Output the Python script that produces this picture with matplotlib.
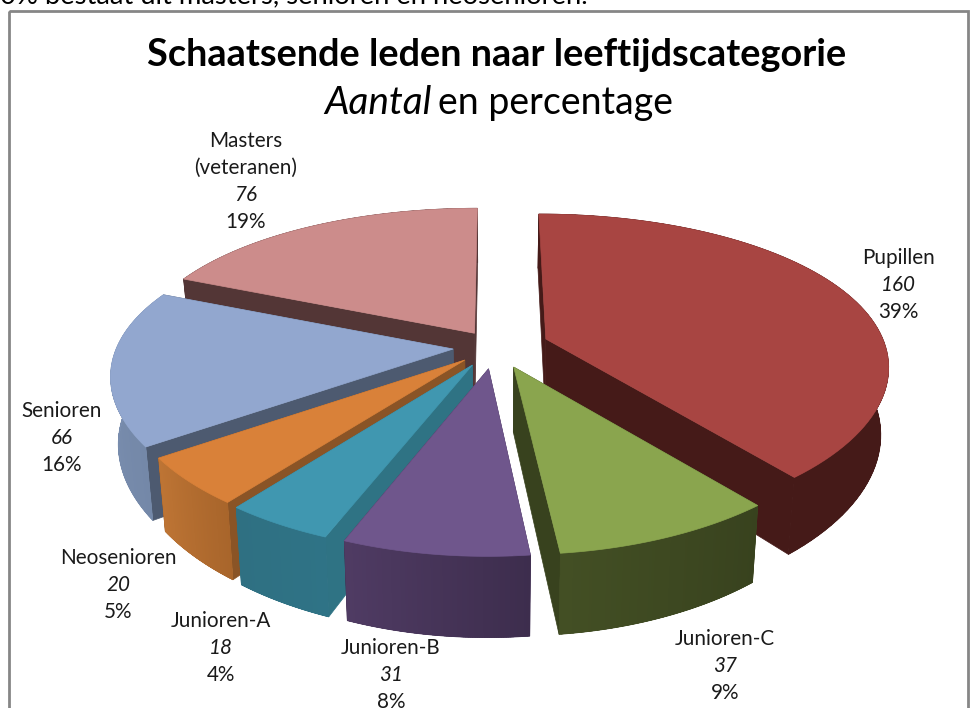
import numpy as np
import matplotlib
matplotlib.use("Agg")
import matplotlib.pyplot as plt
from matplotlib.colors import to_rgb
from matplotlib.patches import Polygon, Rectangle

categories = ["Pupillen", "Junioren-C", "Junioren-B", "Junioren-A", "Neosenioren", "Senioren", "Masters\n(veteranen)"]
values = [160, 37, 31, 18, 20, 66, 76]
percent_labels = ["39%", "9%", "8%", "4%", "5%", "16%", "19%"]

top_colors = ["#A84542", "#8AA54E", "#6F568C", "#4097B0", "#D98139", "#92A7CF", "#CC8C8B"]
side_from = ["#451A18", "#38421E", "#3D2D4D", "#2F7386", "#A8652B", "#7488A8", "#533636"]
side_to = ["#451A18", "#434F24", "#4F3B63", "#2F7082", "#BD7434", "#7F93B5", "#533636"]
cut_colors = ["#451A18", "#38421E", "#3D2D4D", "#2F7384", "#8A5426", "#4D5A70", "#533636"]
explode = [0.16, 0.145, 0.147, 0.138, 0.125, 0.125, 0.11]
# far slices first so the near ones cover them
draw_order = [6, 0, 5, 4, 3, 1, 2]
label_pos = [(898, 258), (725, 639), (391, 648), (221, 621), (118, 558), (62, 411), (246, 141)]

CX, CY = 495, 347
RX, RY = 337, 150
PERSP_X, PERSP_Y = 0.16, 0.2
DEPTH = 65
BOTTOM_SHRINK = 0.98

plt.rcParams["font.family"] = ["Lato", "DejaVu Sans"]


def project(u, v, ox, oy):
    # ox, oy move the slice out from the centre
    sx = 1 / (1 + PERSP_X * v)
    sy = 1 / (1 + PERSP_Y * v)
    return np.column_stack([CX + RX * sx * (u + ox), CY - RY * (oy + v * sy)]), sy


def drop(points, scale):
    out = points.copy()
    out[:, 0] = CX + (out[:, 0] - CX) * BOTTOM_SHRINK
    out[:, 1] += DEPTH * scale
    return out


fig = plt.figure(figsize=(9.71, 7.08), dpi=100)
ax = fig.add_axes([0, 0, 1, 1])
ax.set_xlim(0, 971)
ax.set_ylim(708, 0)
ax.axis("off")

ax.add_patch(Rectangle((9, 11), 959, 720, fill=False, edgecolor="#868686", linewidth=2))

edges = np.radians(np.cumsum([0] + values) / sum(values) * 360)

for i in draw_order:
    start, end = edges[i], edges[i + 1]
    mid = (start + end) / 2
    ox, oy = explode[i] * np.sin(mid), explode[i] * np.cos(mid)
    theta = np.linspace(start, end, 80)
    rim, rim_s = project(np.sin(theta), np.cos(theta), ox, oy)
    apex, apex_s = project(np.array([0.0]), np.array([0.0]), ox, oy)

    # cut faces
    for rim_idx in (0, -1):
        p = rim[[rim_idx]]
        face = np.vstack([apex, p, drop(p, rim_s[rim_idx]), drop(apex, apex_s[0])])
        ax.add_patch(Polygon(face, closed=True, facecolor=cut_colors[i], edgecolor=cut_colors[i], linewidth=0.5))

    # outer wall: solid shape first, then the shading bands clipped to it
    low = drop(rim, rim_s)
    c0, c1 = np.array(to_rgb(side_from[i])), np.array(to_rgb(side_to[i]))
    wall = Polygon(np.vstack([rim, low[::-1]]), closed=True, facecolor=(c0 + c1) / 2,
                   edgecolor=(c0 + c1) / 2, linewidth=0.5)
    ax.add_patch(wall)
    for k in range(len(theta) - 1):
        col = c0 + (c1 - c0) * k / (len(theta) - 2)
        quad = np.vstack([rim[k], rim[k + 1], low[k + 1], low[k]])
        band = Polygon(quad, closed=True, facecolor=col, edgecolor=col, linewidth=1, antialiased=False)
        ax.add_patch(band)
        band.set_clip_path(wall)

    top = np.vstack([apex, rim])
    ax.add_patch(Polygon(top, closed=True, facecolor=top_colors[i], edgecolor=top_colors[i], linewidth=0.5))

# labels: name, count, percentage
LINE = 27
for name, val, pct, (x, y) in zip(categories, values, percent_labels, label_pos):
    lines = name.split("\n")
    for j, part in enumerate(lines):
        ax.text(x, y + j * LINE, part, ha="center", va="center", fontsize=14.9, color="#1a1a1a")
    n = len(lines)
    ax.text(x, y + n * LINE, str(val), ha="center", va="center", fontsize=14.9, style="italic", color="#1a1a1a")
    ax.text(x, y + (n + 1) * LINE, pct, ha="center", va="center", fontsize=14.9, color="#1a1a1a")

ax.text(496.5, 55, "Schaatsende leden naar leeftijdscategorie", ha="center", va="center",
        fontsize=27.3, fontweight="bold", color="black")
ax.text(432, 103, "Aantal", ha="right", va="center", fontsize=28, style="italic", color="black")
ax.text(438, 103, "en percentage", ha="left", va="center", fontsize=27, color="black")
ax.text(0, 3, "0% bestaat uit masters, senioren en neosenioren.", ha="left", va="baseline",
        fontsize=19.7, color="black")

fig.savefig("out.png", dpi=100)
